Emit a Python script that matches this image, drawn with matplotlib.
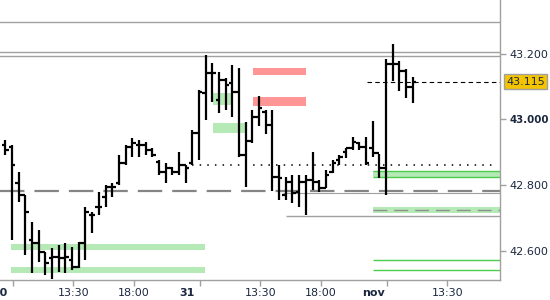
import numpy as np
import matplotlib.pyplot as plt

# 30-minute OHLC bars, sessions 08:00-22:00 (28 bars a day): 30 oct, 31 oct, 1 nov
opens = [42.922, 42.916, 42.806, 42.770, 42.633, 42.623, 42.596, 42.578, 42.581, 42.578,
         42.572, 42.550, 42.623, 42.709, 42.733, 42.763, 42.794, 42.806, 42.867, 42.916,
         42.922, 42.922, 42.907, 42.870, 42.840, 42.852, 42.840, 42.861,
         42.867, 42.958, 43.080, 43.141, 43.059, 43.120, 43.110, 43.083, 42.891, 42.934,
         43.007, 43.022, 42.983, 42.824, 42.770, 42.809, 42.779, 42.809, 42.815, 42.809,
         42.791, 42.840, 42.876, 42.900, 42.913, 42.928, 42.916, 42.913,
         42.897, 42.852, 43.168, 43.168, 43.147, 43.098]
highs = [42.937, 42.922, 42.840, 42.770, 42.687, 42.663, 42.596, 42.608, 42.617, 42.623,
         42.611, 42.626, 42.733, 42.718, 42.779, 42.800, 42.806, 42.891, 42.922, 42.943,
         42.937, 42.931, 42.913, 42.876, 42.867, 42.855, 42.900, 42.861,
         42.967, 43.089, 43.196, 43.171, 43.144, 43.126, 43.165, 43.156, 42.992, 43.028,
         43.071, 43.028, 43.028, 42.861, 42.824, 42.830, 42.830, 42.830, 42.900, 42.815,
         42.846, 42.876, 42.891, 42.913, 42.946, 42.931, 42.946, 42.995,
         42.894, 43.184, 43.229, 43.177, 43.153, 43.129]
lows = [42.891, 42.633, 42.748, 42.587, 42.532, 42.566, 42.526, 42.513, 42.535, 42.532,
        42.541, 42.547, 42.572, 42.654, 42.709, 42.733, 42.763, 42.800, 42.861, 42.885,
        42.885, 42.891, 42.885, 42.830, 42.806, 42.830, 42.830, 42.806,
        42.861, 42.876, 42.998, 43.053, 43.019, 43.028, 43.007, 42.885, 42.794, 42.928,
        42.980, 42.955, 42.782, 42.754, 42.754, 42.745, 42.733, 42.709, 42.785, 42.779,
        42.791, 42.837, 42.861, 42.882, 42.907, 42.907, 42.861, 42.885,
        42.821, 42.770, 43.117, 43.086, 43.065, 43.050]
closes = [42.907, 42.861, 42.770, 42.718, 42.623, 42.596, 42.563, 42.581, 42.578, 42.581,
          42.550, 42.623, 42.718, 42.709, 42.733, 42.794, 42.794, 42.867, 42.916, 42.928,
          42.922, 42.907, 42.891, 42.840, 42.852, 42.840, 42.861, 42.852,
          42.958, 43.083, 43.141, 43.141, 43.120, 43.104, 43.083, 42.891, 42.934, 43.007,
          43.034, 42.983, 42.824, 42.821, 42.809, 42.776, 42.809, 42.815, 42.809, 42.791,
          42.830, 42.867, 42.885, 42.913, 42.931, 42.916, 42.867, 42.897,
          42.852, 43.168, 43.168, 43.147, 43.098, 43.115]

days = ['30', '31', 'nov']
tick_times = [9.0, 13.5, 18.0]
tick_texts = ['', '13:30', '18:00']
bars_per_day = 28

# levels spanning the whole chart
full_levels = [43.296, 43.204, 43.193]
pivot_level = 42.783
# zones: (start bar, end bar, low, high)
green_zones = [(0.86, 29.9, 42.602, 42.622), (0.86, 29.9, 42.533, 42.551),
               (31.07, 34.05, 43.043, 43.079), (31.07, 35.83, 42.959, 42.988)]
red_zones = [(37.02, 45.06, 43.135, 43.155), (37.02, 45.06, 43.041, 43.067)]
nov_start = 55.0
nov_band = (42.825, 42.843)
nov_soft_band = (42.716, 42.732)
nov_soft_mid = 42.724
nov_lines = [42.572, 42.541]
support_line = (42.08, 42.706)
thin_line = (41.6, 42.777)
dotted_line = (27.95, 73.04, 42.862)
last_line_start = 54.14
last_price = closes[-1]

y_ticks = [42.6, 42.8, 43.0, 43.2]

GRAY = '#a0a0a0'
LGREEN = '#b5e9b5'
GREEN = '#4ccc4c'
RED = '#ff9595'
TXT = '#1c2840'

fig = plt.figure(figsize=(5.5, 3), dpi=100)
ax = fig.add_axes([0, 20 / 300, 500 / 550, 280 / 300])
x0, x1 = -0.33, 74.08
ax.set_xlim(x0, x1)
ax.set_ylim(42.511, 43.363)

for lv in full_levels:
    ax.axhline(lv, color=GRAY, lw=1.0, zorder=1)

for a, b, lo, hi in green_zones:
    ax.fill_between([a, b], lo, hi, color=LGREEN, lw=0, zorder=1)
for a, b, lo, hi in red_zones:
    ax.fill_between([a, b], lo, hi, color=RED, lw=0, zorder=1)

ax.fill_between([nov_start, x1], *nov_band, color=LGREEN, lw=0, zorder=1)
ax.hlines(nov_band, nov_start, x1, color=GREEN, lw=1.0, zorder=2)
ax.fill_between([nov_start, x1], *nov_soft_band, color=LGREEN, lw=0, zorder=1)
ax.hlines(nov_soft_mid, nov_start, x1, color='#909090', lw=1.0,
          linestyles=(0, (10, 5)), zorder=2)
ax.hlines(nov_lines, nov_start, x1, color=GREEN, lw=1.0, zorder=2)

ax.hlines(support_line[1], support_line[0], x1, color=GRAY, lw=1.0, zorder=2)
ax.hlines(thin_line[1], thin_line[0], x1, color=GRAY, lw=0.8, zorder=2)
ax.axhline(pivot_level, color='#858585', lw=1.6, ls=(0, (11, 4.5)), zorder=2)
ax.hlines(dotted_line[2], dotted_line[0], dotted_line[1], color='black', lw=1.1,
          linestyles=(0, (1, 4)), zorder=2)
ax.hlines(last_price, last_line_start, x1, color='black', lw=0.8,
          linestyles=(0, (4, 3)), zorder=2)

# OHLC bars
idx = np.arange(len(opens))
ax.vlines(idx, lows, highs, color='black', lw=1.6, zorder=3)
ax.hlines(opens, idx - 0.5, idx, color='black', lw=1.6, zorder=3)
ax.hlines(closes, idx, idx + 0.5, color='black', lw=1.6, zorder=3)

for s in ['left', 'top']:
    ax.spines[s].set_visible(False)
for s in ['right', 'bottom']:
    ax.spines[s].set_color(GRAY)
    ax.spines[s].set_linewidth(1.0)

ax.yaxis.tick_right()
ax.set_yticks(y_ticks, ['%.3f' % v for v in y_ticks])
ax.tick_params(axis='y', length=4, width=1, color=GRAY, labelsize=8,
               labelcolor=TXT, pad=3)
for lbl in ax.get_yticklabels():
    if lbl.get_text() == '43.000':
        lbl.set_fontweight('bold')
        lbl.set_fontsize(7.4)

pos, labs = [], []
for d in range(len(days)):
    for t, s in zip(tick_times, tick_texts):
        p = bars_per_day * d + 2 * (t - 8) - 0.8
        if p < len(opens) + 6:
            pos.append(p)
            labs.append(s)
ax.set_xticks(pos, labs)
ax.set_xticks([bars_per_day * d - 0.8 for d in range(len(days))], days, minor=True)
ax.tick_params(axis='x', which='major', length=4, width=1, color=GRAY,
               labelsize=8, labelcolor=TXT, pad=2)
ax.tick_params(axis='x', which='minor', length=0, labelsize=8,
               labelcolor=TXT, pad=6)
for lbl in ax.get_xticklabels(minor=True):
    lbl.set_fontweight('bold')

ax.annotate('%.3f' % last_price, xy=(1.0, last_price),
            xycoords=('axes fraction', 'data'), xytext=(6, 0),
            textcoords='offset pixels', va='center', ha='left', fontsize=8,
            color=TXT, annotation_clip=False,
            bbox=dict(boxstyle='square,pad=0.22', fc='#f5c400', ec=GRAY, lw=1))

fig.savefig('out.png', dpi=100)
